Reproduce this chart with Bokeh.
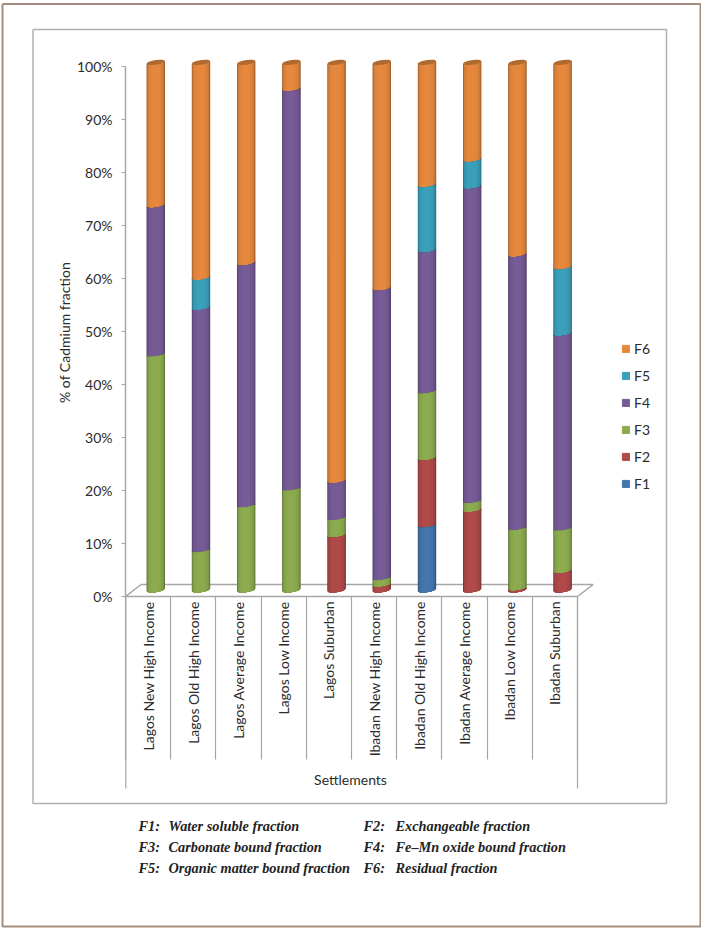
import math
from bokeh.core.properties import value
from bokeh.embed import file_html
from bokeh.layouts import column
from bokeh.models import (ColumnDataSource, FixedTicker, Legend, LegendItem,
                          LinearAxis, PrintfTickFormatter, Range1d)
from bokeh.plotting import figure
from bokeh.resources import INLINE

settlements = ["Lagos New High Income", "Lagos Old High Income", "Lagos Average Income", "Lagos Low Income",
               "Lagos Suburban", "Ibadan New High Income", "Ibadan Old High Income", "Ibadan Average Income",
               "Ibadan Low Income", "Ibadan Suburban"]
F1 = [0, 0, 0, 0, 0, 0, 12.3, 0, 0, 0]
F2 = [0, 0, 0, 0, 10.4, 1.0, 12.7, 15.2, 0.3, 3.6]
F3 = [44.7, 7.6, 16.1, 19.3, 3.3, 1.3, 12.7, 1.7, 11.5, 8.1]
F4 = [28.2, 45.9, 45.9, 75.7, 7.0, 54.9, 26.7, 59.6, 51.8, 36.9]
F5 = [0, 5.7, 0, 0, 0, 0, 12.4, 5.1, 0, 12.6]
F6 = [27.1, 40.8, 38.0, 5.0, 79.3, 42.8, 23.2, 18.4, 36.4, 38.8]
series_names = ["F1", "F2", "F3", "F4", "F5", "F6"]
series_values = [F1, F2, F3, F4, F5, F6]
series_colors = ["#4376ac", "#b04a49", "#8cab4f", "#765b97", "#3b9fb9", "#e5883d"]
y_ticks = list(range(0, 101, 10))
caption_left = [("F1:", "Water soluble fraction"), ("F3:", "Carbonate bound fraction"),
                ("F5:", "Organic matter bound fraction")]
caption_right = [("F2:", "Exchangeable fraction"), ("F4:", "Fe\u2013Mn oxide bound fraction"),
                 ("F6:", "Residual fraction")]

SANS = "Lato"
SERIF = "Liberation Serif"
INK = "#2b2b2b"
GREY = "#a6a6a6"

W, H = 701, 928
FL, FT, FR, FB = 125, 50, 700, 596
PX_X = 45.2
PX_Y = 5.3

# --- page layer: full-window frame in pixel coordinates, for frames and free texts
bg = figure(width=W, height=H, output_backend="svg", toolbar_location=None,
            x_range=Range1d(0, W), y_range=Range1d(H, 0), x_axis_type=None, y_axis_type=None,
            min_border=0, outline_line_color=None, background_fill_color="white", border_fill_color="white")
bg.grid.visible = False


def rect(l, r, t, b, color, width):
    bg.line([l, r, r, l, l], [t, t, b, b, t], line_color=color, line_width=width)


rect(2, 700, 3.5, 926, "#a58d80", 2)
rect(32.5, 666, 29, 803, "#b0b0b0", 1.5)
bg.line([125.3, 125.3], [596, 788], line_color=GREY, line_width=1.2)
bg.line([577, 577], [596, 788], line_color=GREY, line_width=1.2)


def text(s, x, y, font=SANS, style="normal", size="14px", color=INK, angle=0.0, align="left"):
    bg.text([x], [y], text=[s], text_font=value(font), text_font_style=style, text_font_size=size,
            text_color=color, angle=angle, text_align=align, text_baseline="middle")


text("% of Cadmium fraction", 64, 332, angle=math.pi / 2, align="center")
text("Settlements", 350, 779, align="center")
for rows, xa_, xb_ in ((caption_left, 138, 168), (caption_right, 363, 395)):
    for k, (tag, desc) in enumerate(rows):
        yy = 825.5 + 21 * k
        for t, xx in ((tag, xa_), (desc, xb_)):
            text(t, xx, yy, font=SERIF, style="bold italic", size="14.3px", color="#222222")

# --- chart layer
p = figure(width=W, height=H, output_backend="svg", toolbar_location=None,
           x_range=Range1d(0, (FR - FL) / PX_X), y_range=Range1d(0, (FB - FT) / PX_Y),
           x_axis_type=None, y_axis_type=None,
           min_border_left=FL, min_border_right=W - FR, min_border_top=FT, min_border_bottom=H - FB,
           outline_line_color=None, background_fill_alpha=0, border_fill_alpha=0)
p.grid.visible = False

ya = LinearAxis(ticker=FixedTicker(ticks=y_ticks), bounds=(0, 100),
                axis_line_color=GREY, axis_line_width=1.5,
                major_tick_line_color=GREY, major_tick_line_width=1.2, major_tick_out=4, major_tick_in=0,
                minor_tick_line_color=None, formatter=PrintfTickFormatter(format="%d%%"),
                major_label_text_font=SANS, major_label_text_font_size="14px",
                major_label_text_color=INK, major_label_standoff=9)
p.add_layout(ya, "left")

centers = [i + 0.5 for i in range(len(settlements))]
bounds = [float(i) for i in range(len(settlements) + 1)]
xa = LinearAxis(ticker=FixedTicker(ticks=centers, minor_ticks=bounds), bounds=(0, len(settlements)),
                major_label_overrides={c: s for c, s in zip(centers, settlements)},
                major_label_orientation=math.pi / 2,
                axis_line_color=GREY, axis_line_width=1.5,
                major_tick_line_color=None, minor_tick_line_color=GREY, minor_tick_line_width=1.2,
                minor_tick_out=163, minor_tick_in=0,
                major_label_text_font=SANS, major_label_text_font_size="14px",
                major_label_text_color=INK, major_label_standoff=-158)
p.add_layout(xa, "below")

dx, dy = 15.7 / PX_X, 12 / PX_Y
n = len(settlements)
p.line([0, dx, n + dx, n], [0, dy, dy, 0], line_color=GREY, line_width=1.5)

half = 9.2 / PX_X
ell = 2.3 / PX_Y
tilt = 1.3 / PX_Y
x_shift = 7.7 / PX_X
y_base = 6.6 / PX_Y
y_scale = 0.9953
LAYERS = [(-1.0, 1.0, 0.66), (-0.97, 0.96, 0.74), (-0.93, 0.90, 0.84), (-0.88, 0.82, 0.92),
          (-0.75, 0.65, 0.97), (-0.5, 0.4, 1.0)]


def shade(col, f):
    r, g, b = int(col[1:3], 16), int(col[3:5], 16), int(col[5:7], 16)
    return "#%02x%02x%02x" % (int(r * f), int(g * f), int(b * f))


def arc(u, level, sign=-1):
    return level + sign * ell * math.sqrt(max(0, 1 - u * u)) + tilt * u


xs, ys, cols = [], [], []
for i in range(n):
    cx = centers[i] + x_shift
    tops = []
    cum = 0.0
    for vals, col in zip(series_values, series_colors):
        if vals[i] > 0:
            tops.append((cum, cum + vals[i], col))
            cum += vals[i]
    for lo, hi, col in reversed(tops):
        lv_lo = y_base + y_scale * lo - (0.2 if lo > 0 else 0)
        lv_hi = y_base + y_scale * hi
        for a, b, f in LAYERS:
            us = [a + (b - a) * k / 12 for k in range(13)]
            xs.append([cx + half * u for u in us] + [cx + half * u for u in reversed(us)])
            ys.append([arc(u, lv_lo) for u in us] + [arc(u, lv_hi) for u in reversed(us)])
            cols.append(shade(col, f))
    us = [-1 + k / 10 for k in range(21)]
    top = y_base + y_scale * cum
    xs.append([cx + half * u for u in us] + [cx + half * u for u in reversed(us)])
    ys.append([arc(u, top) for u in us] + [arc(u, top, 1) for u in reversed(us)])
    cols.append("#b0692f")

p.patches("xs", "ys", source=ColumnDataSource(dict(xs=xs, ys=ys, c=cols)),
          fill_color="c", line_color=None)

items = []
for name, col in zip(series_names, series_colors):
    r = p.vbar(x=[float("nan")], top=[float("nan")], width=0.1, fill_color=col, line_color=col)
    items.append(LegendItem(label=name, renderers=[r]))
legend = Legend(items=items[::-1], location=(621 - FL, FB - 492), orientation="vertical",
                background_fill_alpha=0, border_line_color=None, margin=0, padding=0,
                glyph_width=9, glyph_height=9, label_standoff=4, spacing=10,
                label_height=17, label_text_font=SANS, label_text_font_size="14px",
                label_text_color=INK, label_text_baseline="middle")
p.add_layout(legend, "center")

fg = column(p, margin=(-H, 0, 0, 0))
open("out.html", "w").write(file_html(column(bg, fg), INLINE))
